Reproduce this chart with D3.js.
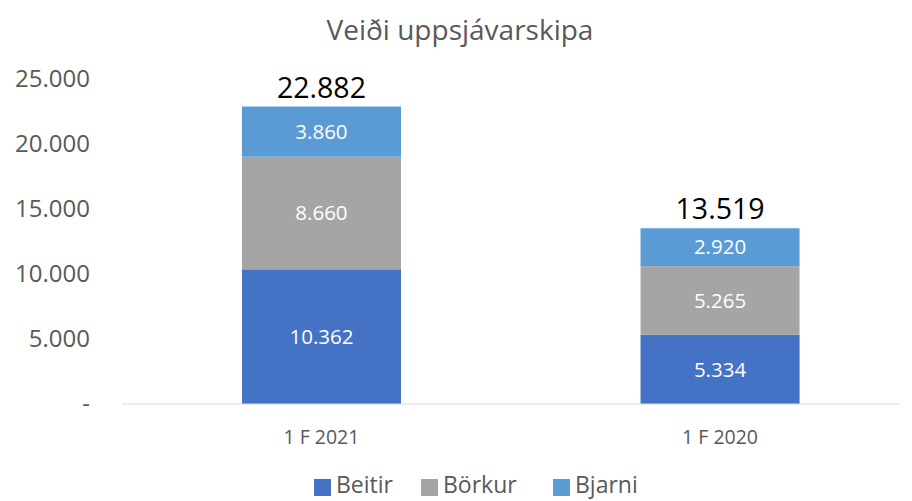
<!DOCTYPE html>
<html lang="en">
<head>
  <meta charset="UTF-8">
  <title>Veiði uppsjávarskipa</title>
  <script src="https://d3js.org/d3.v7.min.js"></script>
  <style>
    body { margin: 0; background: #fff; }
    text { font-family: "Open Sans", "Noto Sans", sans-serif; }
  </style>
</head>
<body>
  <div id="chart"></div>
  <script>
  const categories = ['1 F 2021', '1 F 2020']
  const seriesNames = ['Beitir', 'Börkur', 'Bjarni']
  const beitir = [10362, 5334]
  const borkur = [8660, 5265]
  const bjarni = [3860, 2920]
  const yTicks = [0, 5000, 10000, 15000, 20000, 25000]
  const colors = ['#4472C4', '#A5A5A5', '#5B9BD5']

  const width = 912, height = 501
  const margin = { top: 79, left: 122, right: 12, bottom: 97 }

  const locale = d3.formatLocale({ decimal: ',', thousands: '.', grouping: [3], currency: ['', ''] })
  const fmt = locale.format(',d')

  const rows = categories.map((c, i) => ({ cat: c, Beitir: beitir[i], 'Börkur': borkur[i], Bjarni: bjarni[i] }))
  const stacked = d3.stack().keys(seriesNames)(rows)
  const total = d => d.Beitir + d['Börkur'] + d.Bjarni

  const svg = d3.select('#chart').append('svg')
    .attr('width', width)
    .attr('height', height)

  const x = d3.scaleBand()
    .domain(categories)
    .range([141.5, width - margin.right])
    .paddingInner(0.601)
    .paddingOuter(0.252)

  const y = d3.scaleLinear()
    .domain([0, 25000])
    .range([height - margin.bottom, margin.top])

  // title
  svg.append('text')
    .attr('x', 460).attr('y', 40)
    .attr('text-anchor', 'middle')
    .attr('font-size', 28)
    .attr('fill', '#595959')
    .text('Veiði uppsjávarskipa')

  // y tick labels
  svg.append('g').selectAll('text')
    .data(yTicks)
    .join('text')
    .attr('x', 90)
    .attr('y', d => y(d))
    .attr('dy', '0.35em')
    .attr('text-anchor', 'end')
    .attr('font-size', 24)
    .attr('fill', '#595959')
    .text(d => d === 0 ? '-' : fmt(d))

  // bars
  svg.append('g').selectAll('g')
    .data(stacked)
    .join('g')
    .attr('fill', (d, i) => colors[i])
    .selectAll('rect')
    .data(d => d)
    .join('rect')
    .attr('x', d => x(d.data.cat))
    .attr('y', d => y(d[1]))
    .attr('width', x.bandwidth())
    .attr('height', d => y(d[0]) - y(d[1]))

  // segment labels
  svg.append('g').selectAll('g')
    .data(stacked)
    .join('g')
    .selectAll('text')
    .data(d => d)
    .join('text')
    .attr('x', d => x(d.data.cat) + x.bandwidth() / 2)
    .attr('y', d => (y(d[0]) + y(d[1])) / 2)
    .attr('dy', '0.35em')
    .attr('text-anchor', 'middle')
    .attr('font-size', 20.5)
    .attr('fill', '#fff')
    .text(d => fmt(d[1] - d[0]))

  // x axis line
  svg.append('line')
    .attr('x1', margin.left).attr('x2', width - margin.right)
    .attr('y1', y(0)).attr('y2', y(0))
    .attr('stroke', '#d9d9d9')
    .attr('stroke-width', 1)

  // totals
  svg.append('g').selectAll('text')
    .data(rows)
    .join('text')
    .attr('x', d => x(d.cat) + x.bandwidth() / 2)
    .attr('y', d => y(total(d)) - 9)
    .attr('text-anchor', 'middle')
    .attr('font-size', 28.5)
    .attr('fill', '#000')
    .text(d => fmt(total(d)))

  // category labels
  svg.append('g').selectAll('text')
    .data(categories)
    .join('text')
    .attr('x', d => x(d) + x.bandwidth() / 2)
    .attr('y', 437)
    .attr('dy', '0.35em')
    .attr('text-anchor', 'middle')
    .attr('font-size', 19.5)
    .attr('fill', '#595959')
    .text(d => d)

  // legend
  const legendX = [314, 421, 553]
  const legend = svg.append('g').selectAll('g')
    .data(seriesNames)
    .join('g')
    .attr('transform', (d, i) => `translate(${legendX[i]}, 493)`)
  legend.append('rect')
    .attr('x', 0).attr('y', -14)
    .attr('width', 17).attr('height', 17)
    .attr('fill', (d, i) => colors[i])
  legend.append('text')
    .attr('x', 22).attr('y', 0)
    .attr('font-size', 23)
    .attr('fill', '#595959')
    .text(d => d)
  </script>
</body>
</html>
